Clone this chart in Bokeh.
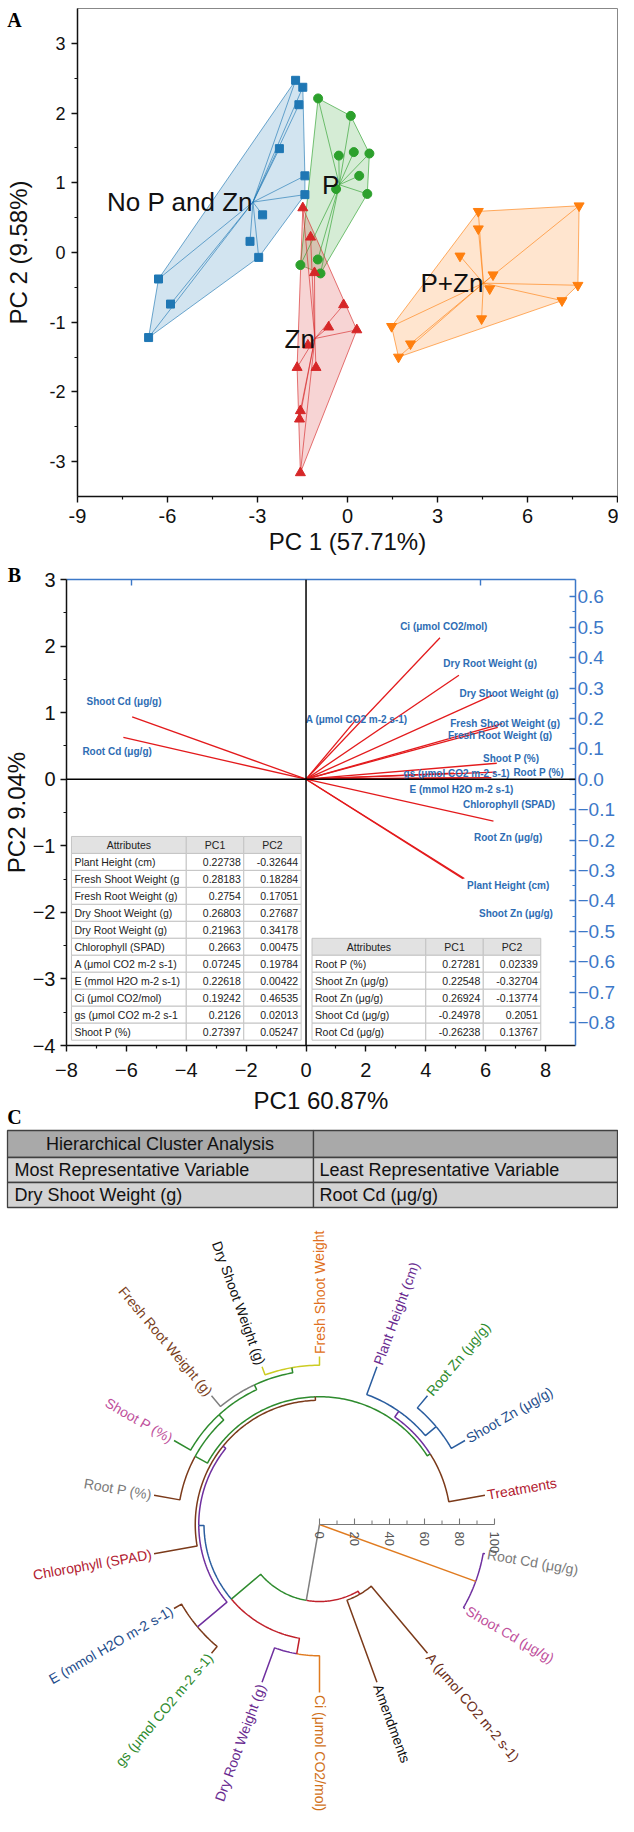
import numpy as np
from bokeh.plotting import figure
from bokeh.models import Range1d, LinearAxis, FixedTicker, Span
from bokeh.layouts import column, row
from bokeh.embed import file_html
from bokeh.resources import INLINE
from bokeh.core.properties import value

FONT = "Liberation Sans"
SERIF = "Liberation Serif"

# ====================== DATA ======================
# ---- Panel A : PCA scores ----
group_names = ["No P and Zn", "P", "Zn", "P+Zn"]
nopzn_pc1 = [-1.73, -1.49, -1.62, -2.27, -1.42, -1.42, -2.83, -3.25, -2.96, -6.30, -5.90, -6.63]
nopzn_pc2 = [2.47, 2.37, 2.12, 1.49, 1.10, 0.83, 0.54, 0.16, -0.07, -0.38, -0.74, -1.22]
p_pc1 = [-0.98, 0.11, -0.29, 0.21, 0.73, 0.39, -0.38, 0.66, -1.57, -0.99, -0.90]
p_pc2 = [2.21, 1.96, 1.39, 1.44, 1.42, 1.10, 0.91, 0.84, -0.18, -0.10, -0.30]
zn_pc1 = [-1.49, -1.23, -1.10, -0.13, -0.63, 0.31, -1.32, -1.68, -1.05, -1.57, -1.60, -1.57]
zn_pc2 = [0.64, 0.22, -0.29, -0.75, -1.07, -1.11, -1.33, -1.65, -1.65, -2.27, -2.39, -3.16]
pzn_pc1 = [4.36, 7.72, 4.36, 3.75, 4.85, 4.74, 7.68, 7.15, 4.47, 1.47, 2.10, 1.70]
pzn_pc2 = [0.59, 0.67, 0.34, -0.05, -0.32, -0.52, -0.47, -0.69, -0.95, -1.06, -1.31, -1.50]
a_xticks = [-9, -6, -3, 0, 3, 6, 9]
a_yticks = [-3, -2, -1, 0, 1, 2, 3]

# ---- Panel B : loadings ----
table_names = ["Plant Height (cm)", "Fresh Shoot Weight (g", "Fresh Root Weight (g)",
               "Dry Shoot Weight (g)", "Dry Root Weight (g)", "Chlorophyll (SPAD)",
               "A (μmol CO2 m-2 s-1)", "E (mmol H2O m-2 s-1)", "Ci (μmol CO2/mol)",
               "gs (μmol CO2 m-2 s-1", "Shoot P (%)",
               "Root P (%)", "Shoot Zn (μg/g)", "Root Zn (μg/g)", "Shoot Cd (μg/g)", "Root Cd (μg/g)"]
vector_names = ["Plant Height (cm)", "Fresh Shoot Weight (g)", "Fresh Root Weight (g)",
                "Dry Shoot Weight (g)", "Dry Root Weight (g)", "Chlorophyll (SPAD)",
                "A (μmol CO2 m-2 s-1)", "E (mmol H2O m-2 s-1)", "Ci (μmol CO2/mol)",
                "gs (μmol CO2 m-2 s-1)", "Shoot P (%)",
                "Root P (%)", "Shoot Zn (μg/g)", "Root Zn (μg/g)", "Shoot Cd (μg/g)", "Root Cd (μg/g)"]
pc1 = [0.22738, 0.28183, 0.2754, 0.26803, 0.21963, 0.2663, 0.07245, 0.22618, 0.19242, 0.2126,
       0.27397, 0.27281, 0.22548, 0.26924, -0.24978, -0.26238]
pc2 = [-0.32644, 0.18284, 0.17051, 0.27687, 0.34178, 0.00475, 0.19784, 0.00422, 0.46535, 0.02013,
       0.05247, 0.02339, -0.32704, -0.13774, 0.2051, 0.13767]
b_xtick_labels = ["−8", "−6", "−4", "−2", "0", "2", "4", "6", "8"]
b_ytick_labels = ["−4", "−3", "−2", "−1", "0", "1", "2", "3"]
b_rtick_labels = ["0.6", "0.5", "0.4", "0.3", "0.2", "0.1", "0.0", "−0.1", "−0.2", "−0.3",
                  "−0.4", "−0.5", "−0.6", "−0.7", "−0.8"]

# ---- Panel C : hierarchical clustering ----
hca_rows = [["Hierarchical Cluster Analysis", ""],
            ["Most Representative Variable", "Least Representative Variable"],
            ["Dry Shoot Weight (g)", "Root Cd (μg/g)"]]
leaf_names = ["Treatments", "Shoot Zn (μg/g)", "Root Zn (μg/g)", "Plant Height (cm)",
              "Fresh Shoot Weight", "Dry Shoot Weight (g)", "Fresh Root Weight (g)", "Shoot P (%)",
              "Root P (%)", "Chlorophyll (SPAD)", "E (mmol H2O m-2 s-1)", "gs (μmol CO2 m-2 s-1)",
              "Dry Root Weight (g)", "Ci (μmol CO2/mol)", "Amendments", "A (μmol CO2 m-2 s-1)",
              "Shoot Cd (μg/g)", "Root Cd (μg/g)"]
leaf_colors = ["#b22030", "#1f4e8c", "#2e8b2e", "#6a2c91", "#e07020", "#111111", "#7b3f1d",
               "#c0509c", "#7a7a7a", "#b22030", "#1f4e8c", "#2e8b2e", "#6a2c91", "#d07018",
               "#111111", "#6b2e1a", "#c0509c", "#7a7a7a"]
BL, GR, BR, PU, RD, GY, OR, YE = ("#2a5d9f", "#2e8b2e", "#7b3a1a", "#6f2f9f",
                                  "#c0202a", "#808080", "#e07b20", "#cccc22")
# merges in creation order (node ids 18..34): child a, child b, similarity, colour a, colour b
merge_a = [1, 18, 0, 4, 21, 22, 23, 20, 25, 10, 26, 12, 28, 14, 30, 16, 32]
merge_b = [2, 3, 19, 5, 6, 7, 8, 24, 9, 11, 27, 13, 29, 15, 31, 17, 33]
merge_sim = [87, 79, 75, 91, 88, 85, 81, 73, 71, 91, 69, 75, 66, 46, 44, 95, 0]
merge_col_a = [BL, BL, BR, YE, GR, GR, GR, GR, BR, BR, PU, PU, BL, BR, GR, PU, GY]
merge_col_b = [BL, BL, PU, YE, GY, GR, BR, GR, BR, BR, PU, OR, RD, BR, RD, PU, OR]
leaf_sim = 96
scale_ticks = [0, 20, 40, 60, 80, 100]


def style_axis(ax, lsize, tsize, color="#111111", tout=6, tin=0, lstand=6, tstand=5):
    ax.axis_line_color = color
    ax.axis_line_width = 1.5
    ax.major_tick_line_color = color
    ax.minor_tick_line_color = color
    ax.major_tick_line_width = 1.4
    ax.minor_tick_line_width = 1.2
    ax.major_tick_out = tout
    ax.major_tick_in = tin
    ax.minor_tick_out = 3 if tout else 0
    ax.minor_tick_in = 3 if tin else 0
    ax.major_label_text_font = FONT
    ax.major_label_text_font_size = lsize
    ax.major_label_text_color = color
    ax.major_label_standoff = lstand
    ax.axis_label_text_font = FONT
    ax.axis_label_text_font_size = tsize
    ax.axis_label_text_font_style = "normal"
    ax.axis_label_text_color = "#111111"
    ax.axis_label_standoff = tstand


def mids(t):
    return [(a + b) / 2 for a, b in zip(t[:-1], t[1:])]


def hull(xs, ys):
    pts = sorted(set(zip(xs, ys)))

    def cross(o, a, b):
        return (a[0] - o[0]) * (b[1] - o[1]) - (a[1] - o[1]) * (b[0] - o[0])
    lower, upper = [], []
    for q in pts:
        while len(lower) >= 2 and cross(lower[-2], lower[-1], q) <= 0:
            lower.pop()
        lower.append(q)
    for q in reversed(pts):
        while len(upper) >= 2 and cross(upper[-2], upper[-1], q) <= 0:
            upper.pop()
        upper.append(q)
    h = lower[:-1] + upper[:-1]
    return [q[0] for q in h], [q[1] for q in h]


def blank_fig(w, h, xr, yr):
    f = figure(width=w, height=h, x_range=Range1d(*xr), y_range=Range1d(*yr),
               output_backend="svg", toolbar_location=None, min_border=0,
               x_axis_location=None, y_axis_location=None, frame_align=False)
    f.grid.visible = False
    f.outline_line_color = None
    return f


# ====================== PANEL A ======================
# side strip with panel letter and the y title (page x 8..54, page y 8..570; y data = 570 - page y)
sa = blank_fig(46, 562, (8, 54), (0, 562))
sa.text(x=[22], y=[543], text=["A"], text_align="center", text_baseline="middle",
        text_font=value(SERIF), text_font_style="bold", text_font_size="20px", text_color="black")
sa.text(x=[26], y=[310], text=["PC 2 (9.58%)"], angle=np.pi / 2, text_align="center",
        text_baseline="middle", text_font=value(FONT), text_font_size="24px", text_color="#111111")

pa = figure(width=572, height=562, x_range=Range1d(-9, 9), y_range=Range1d(-3.5, 3.5),
            output_backend="svg", toolbar_location=None, frame_align=False,
            min_border_left=29, min_border_right=1, min_border_top=8, min_border_bottom=66,
            x_axis_label="PC 1 (57.71%)")
pa.grid.visible = False
pa.outline_line_color = "#888888"
pa.xaxis[0].ticker = FixedTicker(ticks=a_xticks, minor_ticks=mids(a_xticks))
pa.yaxis[0].ticker = FixedTicker(ticks=a_yticks, minor_ticks=mids(a_yticks))
pa.xaxis[0].major_label_overrides = {t: str(t) for t in a_xticks}
pa.yaxis[0].major_label_overrides = {t: str(t) for t in a_yticks}
style_axis(pa.xaxis[0], "20px", "24px", lstand=6, tstand=2)
style_axis(pa.yaxis[0], "18px", "24px", lstand=6, tstand=0)

groups = [(nopzn_pc1, nopzn_pc2), (p_pc1, p_pc2), (zn_pc1, zn_pc2), (pzn_pc1, pzn_pc2)]
gcolors = ["#1f77b4", "#2ca02c", "#d62728", "#ff7f0e"]
gmarkers = ["square", "circle", "triangle", "inverted_triangle"]
gsizes = [8, 9, 10, 10]
cents = []
for (gx, gy), c in zip(groups, gcolors):
    hx, hy = hull(gx, gy)
    pa.patch(hx, hy, fill_color=c, fill_alpha=0.2, line_color=c, line_width=0.8, line_alpha=0.8)
for (gx, gy), c in zip(groups, gcolors):
    cx, cy = float(np.mean(gx)), float(np.mean(gy))
    cents.append((cx, cy))
    pa.multi_line(xs=[[cx, x] for x in gx], ys=[[cy, y] for y in gy], line_color=c,
                  line_width=0.7, line_alpha=0.9)
for (gx, gy), c, m, s in zip(groups, gcolors, gmarkers, gsizes):
    pa.scatter(gx, gy, marker=m, size=s, fill_color=c, line_color=c)
pa.text(x=[c[0] for c in cents], y=[c[1] for c in cents], text=group_names,
        text_align="right", text_baseline="middle", text_font=value(FONT),
        text_font_size="26px", text_color="#111111")

# ====================== PANEL B ======================
# side strip (page x 8..37, page y 570..1136; y data = 1136 - page y)
sb = blank_fig(29, 566, (8, 37), (0, 566))
sb.text(x=[22, 22], y=[554, 12], text=["B", "C"], text_align="center", text_baseline="middle",
        text_font=value(SERIF), text_font_style="bold", text_font_size="20px", text_color="black")
sb.text(x=[24], y=[316], text=["PC2 9.04%"], angle=np.pi / 2, text_align="center",
        text_baseline="middle", text_font=value(FONT), text_font_size="24px", text_color="#111111")

XS, YS = 23.25, 4.567
BLUE = "#3c78c8"
pb = figure(width=589, height=566, x_range=Range1d(-8, 9), y_range=Range1d(-4, 3),
            output_backend="svg", toolbar_location=None, frame_align=False,
            min_border_left=35, min_border_right=40, min_border_top=17, min_border_bottom=83,
            x_axis_label="PC1 60.87%")
pb.grid.visible = False
pb.outline_line_color = None
pb.extra_x_ranges = {"lx": Range1d(-8 / XS, 9 / XS)}
pb.extra_y_ranges = {"ly": Range1d(-4 / YS, 3 / YS)}

bx = [float(s.replace("−", "-")) for s in b_xtick_labels]
by = [float(s.replace("−", "-")) for s in b_ytick_labels]
br = [float(s.replace("−", "-")) for s in b_rtick_labels]
pb.xaxis[0].ticker = FixedTicker(ticks=bx, minor_ticks=mids(bx))
pb.yaxis[0].ticker = FixedTicker(ticks=by, minor_ticks=mids(by))
pb.xaxis[0].major_label_overrides = dict(zip(bx, b_xtick_labels))
pb.yaxis[0].major_label_overrides = dict(zip(by, b_ytick_labels))
style_axis(pb.xaxis[0], "20px", "24px", lstand=11, tstand=7)
style_axis(pb.yaxis[0], "20px", "24px", lstand=5, tstand=0)

ry = LinearAxis(y_range_name="ly", ticker=FixedTicker(ticks=br, minor_ticks=mids(br)))
ry.major_label_overrides = dict(zip(br, b_rtick_labels))
style_axis(ry, "19px", "12px", color=BLUE, tout=0, tin=6, lstand=2)
pb.add_layout(ry, "right")
top_ticks = [-0.25, 0.25]
tx = LinearAxis(x_range_name="lx", ticker=FixedTicker(ticks=top_ticks, minor_ticks=[]))
tx.major_label_overrides = {t: "" for t in top_ticks}
style_axis(tx, "10px", "10px", color=BLUE, tout=0, tin=6, lstand=0)
pb.add_layout(tx, "above")

pb.add_layout(Span(location=0, dimension="height", line_color="black", line_width=1.5))
pb.add_layout(Span(location=0, dimension="width", line_color="black", line_width=1.5))

pb.segment(x0=[0] * len(pc1), y0=[0] * len(pc1), x1=pc1, y1=pc2, x_range_name="lx",
           y_range_name="ly", line_color="#e31a1c", line_width=1.3)

# label anchor points (layout, in PC-score axis units)
lab_x = [6.75, 6.65, 6.48, 6.78, 6.15, 6.78, 1.69, 5.19, 4.60, 5.03, 6.85, 7.77, 7.01, 6.75, -6.08, -6.31]
lab_y = [-1.60, 0.84, 0.66, 1.29, 1.74, -0.38, 0.90, -0.15, 2.29, 0.09, 0.31, 0.10, -2.02, -0.88, 1.17, 0.42]
pb.text(x=lab_x, y=lab_y, text=vector_names, text_align="center", text_baseline="middle",
        text_font=value(FONT), text_font_style="bold", text_font_size="10px", text_color="#2e6db4")


def draw_table(p, xe, ytop, rh, names, v1, v2):
    n = len(names) + 1
    L, R, T, B, F = [], [], [], [], []
    for r in range(n):
        for c in range(3):
            L.append(xe[c]); R.append(xe[c + 1])
            T.append(ytop - r * rh); B.append(ytop - (r + 1) * rh)
            F.append("#e2e2e2" if r == 0 else "white")
    p.quad(left=L, right=R, top=T, bottom=B, fill_color=F, line_color="#c4c4c4", line_width=1)
    kw = dict(text_baseline="middle", text_font=value(FONT), text_font_size="10.5px",
              text_color="#222222")
    p.text(x=[(xe[c] + xe[c + 1]) / 2 for c in range(3)], y=[ytop - rh / 2] * 3,
           text=["Attributes", "PC1", "PC2"], text_align="center", **kw)
    ys = [ytop - (r + 1.5) * rh for r in range(len(names))]
    pad = 0.1
    p.text(x=[xe[0] + pad] * len(names), y=ys, text=names, text_align="left", **kw)
    p.text(x=[xe[2] - pad] * len(names), y=ys, text=[str(v) for v in v1], text_align="right", **kw)
    p.text(x=[xe[3] - pad] * len(names), y=ys, text=[str(v) for v in v2], text_align="right", **kw)


draw_table(pb, [-7.835, -4.0, -2.08, -0.163], -0.86, 0.255, table_names[:11], pc1[:11], pc2[:11])
draw_table(pb, [0.20, 4.0, 5.92, 7.84], -2.39, 0.255, table_names[11:], pc1[11:], pc2[11:])

# ====================== PANEL C ======================
# page x 8..626, page y 1136..1824; y data = 1824 - page y
pc = blank_fig(618, 688, (8, 626), (0, 688))

t_x = [15, 321, 625]
t_y = [686, 659, 634, 609]
L, R, T, B, F = [], [], [], [], []
for r in range(3):
    for c in range(2):
        L.append(t_x[c]); R.append(t_x[c + 1]); T.append(t_y[r]); B.append(t_y[r + 1])
        F.append("#a9a9a9" if r == 0 else "#d3d3d3")
pc.quad(left=L, right=R, top=T, bottom=B, fill_color=F, line_color="#404040", line_width=1.3)
tkw = dict(text_baseline="middle", text_font=value(FONT), text_font_size="18px", text_color="#111111")
pc.text(x=[(t_x[0] + t_x[1]) / 2], y=[(t_y[0] + t_y[1]) / 2], text=[hca_rows[0][0]],
        text_align="center", **tkw)
for r in (1, 2):
    pc.text(x=[t_x[0] + 7, t_x[1] + 6], y=[(t_y[r] + t_y[r + 1]) / 2] * 2, text=hca_rows[r],
            text_align="left", **tkw)

# dendrogram
CX, CY, S = 327, 292, 1.75
ang = {i: np.deg2rad(10 + 20 * i) for i in range(len(leaf_names))}
rad = {i: leaf_sim * S for i in range(len(leaf_names))}
bxs, bys, bcol = [], [], []
for k, (a, b, h, ca, cb) in enumerate(zip(merge_a, merge_b, merge_sim, merge_col_a, merge_col_b)):
    nid = len(leaf_names) + k
    ang[nid] = (ang[a] + ang[b]) / 2
    rad[nid] = h * S
    for ch, col in ((a, ca), (b, cb)):
        n = int(abs(np.degrees(ang[ch] - ang[nid]))) + 2
        t = np.linspace(ang[nid], ang[ch], n)
        xs = list(CX + rad[nid] * np.cos(t)) + [CX + rad[ch] * np.cos(ang[ch])]
        ys = list(CY + rad[nid] * np.sin(t)) + [CY + rad[ch] * np.sin(ang[ch])]
        bxs.append(xs); bys.append(ys); bcol.append(col)
pc.multi_line(xs=bxs, ys=bys, line_color=bcol, line_width=1.5)

RL = leaf_sim * S + 2.5
lx, ly, la, lal = [], [], [], []
for i in range(len(leaf_names)):
    th = ang[i]
    deg = np.degrees(th) % 360
    right = deg <= 90.5 or deg >= 269.5
    lx.append(CX + RL * np.cos(th)); ly.append(CY + RL * np.sin(th))
    la.append(th if right else th - np.pi)
    lal.append("left" if right else "right")
pc.text(x=lx, y=ly, text=leaf_names, angle=la, text_align=lal, text_baseline="middle",
        text_font=value(FONT), text_font_size="14px", text_color=leaf_colors)

# scale bar
minor_scale = mids(scale_ticks)
pc.line([CX, CX + scale_ticks[-1] * S], [CY, CY], line_color="#777777", line_width=1.2)
pc.segment(x0=[CX + v * S for v in scale_ticks], y0=[CY] * len(scale_ticks),
           x1=[CX + v * S for v in scale_ticks], y1=[CY + 6] * len(scale_ticks),
           line_color="#777777", line_width=1.1)
pc.segment(x0=[CX + v * S for v in minor_scale], y0=[CY] * len(minor_scale),
           x1=[CX + v * S for v in minor_scale], y1=[CY + 4] * len(minor_scale),
           line_color="#777777", line_width=1.0)
pc.text(x=[CX + v * S for v in scale_ticks], y=[CY - 7] * len(scale_ticks),
        text=[str(v) for v in scale_ticks], angle=-np.pi / 2, text_align="left",
        text_baseline="middle", text_font=value(FONT), text_font_size="13px", text_color="#555555")

layout = column(row(sa, pa), row(sb, pb), pc)
open("out.html", "w").write(file_html(layout, INLINE))
